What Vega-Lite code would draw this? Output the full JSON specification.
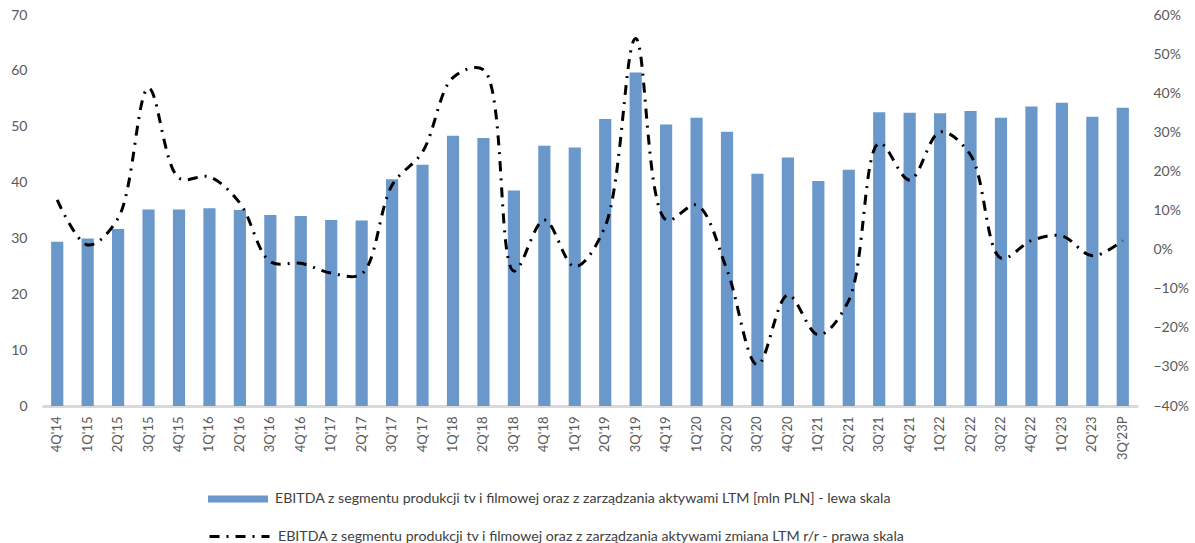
{
  "$schema": "https://vega.github.io/schema/vega-lite/v6.json",
  "autosize": {"type": "none"},
  "width": 1096,
  "height": 391,
  "padding": {"left": 42, "top": 15, "right": 57, "bottom": 137},
  "background": "white",
  "config": {
    "view": {"stroke": null},
    "font": "Lato",
    "axis": {"labelFont": "Lato", "labelColor": "#595959", "grid": false, "ticks": false}
  },
  "data": {
    "values": [
      {"q": "4Q'14", "ebitda": 29.4, "yoy": 0.127},
      {"q": "1Q'15", "ebitda": 30.0, "yoy": 0.012},
      {"q": "2Q'15", "ebitda": 31.7, "yoy": 0.08},
      {"q": "3Q'15", "ebitda": 35.2, "yoy": 0.413},
      {"q": "4Q'15", "ebitda": 35.2, "yoy": 0.183},
      {"q": "1Q'16", "ebitda": 35.4, "yoy": 0.186},
      {"q": "2Q'16", "ebitda": 35.1, "yoy": 0.119},
      {"q": "3Q'16", "ebitda": 34.2, "yoy": -0.031},
      {"q": "4Q'16", "ebitda": 34.0, "yoy": -0.035},
      {"q": "1Q'17", "ebitda": 33.3, "yoy": -0.06},
      {"q": "2Q'17", "ebitda": 33.2, "yoy": -0.062},
      {"q": "3Q'17", "ebitda": 40.6, "yoy": 0.165},
      {"q": "4Q'17", "ebitda": 43.2, "yoy": 0.25},
      {"q": "1Q'18", "ebitda": 48.4, "yoy": 0.44},
      {"q": "2Q'18", "ebitda": 48.0, "yoy": 0.46},
      {"q": "3Q'18", "ebitda": 38.6, "yoy": -0.055},
      {"q": "4Q'18", "ebitda": 46.6, "yoy": 0.076},
      {"q": "1Q'19", "ebitda": 46.3, "yoy": -0.044},
      {"q": "2Q'19", "ebitda": 51.4, "yoy": 0.06},
      {"q": "3Q'19", "ebitda": 59.7, "yoy": 0.54},
      {"q": "4Q'19", "ebitda": 50.4, "yoy": 0.076},
      {"q": "1Q'20", "ebitda": 51.6, "yoy": 0.114},
      {"q": "2Q'20", "ebitda": 49.1, "yoy": -0.052},
      {"q": "3Q'20", "ebitda": 41.6, "yoy": -0.295},
      {"q": "4Q'20", "ebitda": 44.5, "yoy": -0.116},
      {"q": "1Q'21", "ebitda": 40.3, "yoy": -0.218},
      {"q": "2Q'21", "ebitda": 42.3, "yoy": -0.13},
      {"q": "3Q'21", "ebitda": 52.6, "yoy": 0.272},
      {"q": "4Q'21", "ebitda": 52.5, "yoy": 0.178},
      {"q": "1Q'22", "ebitda": 52.4, "yoy": 0.301},
      {"q": "2Q'22", "ebitda": 52.8, "yoy": 0.242},
      {"q": "3Q'22", "ebitda": 51.6, "yoy": -0.022},
      {"q": "4Q'22", "ebitda": 53.6, "yoy": 0.023},
      {"q": "1Q'23", "ebitda": 54.3, "yoy": 0.035},
      {"q": "2Q'23", "ebitda": 51.8, "yoy": -0.016},
      {"q": "3Q'23P", "ebitda": 53.4, "yoy": 0.023}
    ]
  },
  "encoding": {
    "x": {
      "field": "q",
      "type": "ordinal",
      "sort": null,
      "scale": {"paddingInner": 0.6, "paddingOuter": 0.3},
      "axis": {
        "title": null,
        "labelAngle": -90,
        "labelFontSize": 13,
        "labelPadding": 10,
        "domainColor": "#d9d9d9",
        "domainWidth": 3
      }
    }
  },
  "layer": [
    {
      "mark": {"type": "bar", "color": "#6b98ca"},
      "encoding": {
        "y": {
          "field": "ebitda",
          "type": "quantitative",
          "scale": {"domain": [0, 70], "nice": false},
          "axis": {"title": null, "values": [0, 10, 20, 30, 40, 50, 60, 70], "domain": false, "labelFontSize": 14, "labelPadding": 15}
        },
        "fill": {
          "datum": "EBITDA z segmentu produkcji tv i filmowej oraz z zarządzania aktywami LTM [mln PLN] - lewa skala",
          "scale": {"range": ["#6b98ca"]},
          "legend": {
            "title": null,
            "orient": "none",
            "legendX": 166,
            "legendY": 454,
            "symbolType": "M-1,-0.12H1V0.12H-1Z",
            "symbolSize": 3600,
            "symbolStrokeWidth": 0,
            "labelFont": "Lato",
            "labelFontSize": 14.2,
            "labelColor": "#404040",
            "labelOffset": 7,
            "labelLimit": 900
          }
        }
      }
    },
    {
      "mark": {"type": "line", "interpolate": "catmull-rom", "strokeWidth": 3, "strokeDash": [10, 7, 2, 7]},
      "encoding": {
        "y": {
          "field": "yoy",
          "type": "quantitative",
          "scale": {"domain": [-0.4, 0.6], "nice": false},
          "axis": {"title": null, "format": ".0%", "values": [-0.4, -0.3, -0.2, -0.1, 0, 0.1, 0.2, 0.3, 0.4, 0.5, 0.6], "domain": false, "labelFontSize": 14, "labelPadding": 15}
        },
        "stroke": {
          "datum": "EBITDA z segmentu produkcji tv i filmowej oraz z zarządzania aktywami zmiana LTM r/r - prawa skala",
          "scale": {"range": ["black"]},
          "legend": {
            "title": null,
            "orient": "none",
            "legendX": 166,
            "legendY": 490,
            "symbolType": "stroke",
            "symbolSize": 3600,
            "symbolStrokeWidth": 3,
            "symbolDash": [10, 7, 2, 7],
            "labelFont": "Lato",
            "labelFontSize": 14.2,
            "labelColor": "#404040",
            "labelOffset": 7,
            "labelLimit": 900
          }
        }
      }
    }
  ],
  "resolve": {"scale": {"y": "independent", "fill": "independent", "stroke": "independent"}}
}
